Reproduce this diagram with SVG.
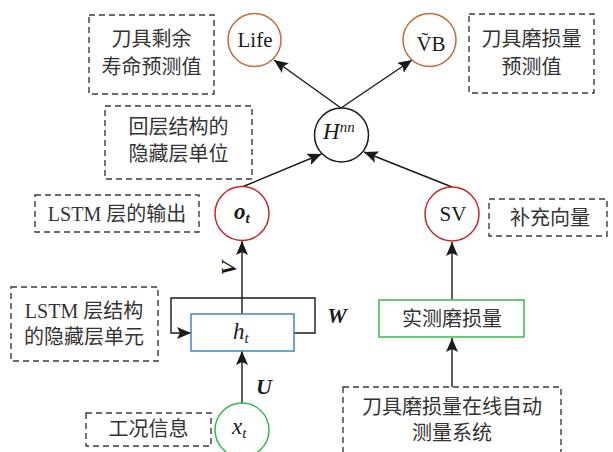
<svg xmlns="http://www.w3.org/2000/svg" width="613" height="452" viewBox="0 0 613 452">
<defs>
<marker id="arr" markerUnits="userSpaceOnUse" markerWidth="14" markerHeight="12" viewBox="0 0 14 12" refX="14" refY="6" orient="auto">
<path d="M0,0 L14,6 L0,12 L3,6 z" fill="#1a1a1a"/>
</marker>
<style>
.dash{fill:none;stroke:#3a3a3a;stroke-width:1.4;stroke-dasharray:6,4}
.cn{font-family:"Liberation Serif","Noto Sans CJK SC",serif;font-size:20px;fill:#333;text-anchor:middle}
.lat{font-family:"Liberation Serif",serif;font-size:21px;fill:#1a1a1a;text-anchor:middle}
.it{font-family:"Liberation Serif",serif;font-style:italic;fill:#1a1a1a}
.bi{font-family:"Liberation Serif",serif;font-style:italic;font-weight:bold;fill:#1a1a1a}
.orange{fill:#fff;stroke:#c56a3a;stroke-width:1.5}
.red{fill:#fff;stroke:#c0282e;stroke-width:1.5}
.green{fill:#fff;stroke:#3db54a;stroke-width:1.5}
.blue{fill:#fff;stroke:#3c86c6;stroke-width:1.5}
.ln{fill:none;stroke:#1a1a1a;stroke-width:1.4}
</style>
</defs>
<rect width="613" height="452" fill="#fff"/>

<g id="connectors">
<line class="ln" x1="242" y1="403" x2="242" y2="351" marker-end="url(#arr)"/>
<line class="ln" x1="242" y1="314" x2="242" y2="241" marker-end="url(#arr)"/>
<path class="ln" d="M294,333 H315 V298 H171 V333 H191" marker-end="url(#arr)"/>
<line class="ln" x1="242" y1="187" x2="321.5" y2="154" marker-end="url(#arr)"/>
<line class="ln" x1="452" y1="187" x2="364" y2="152" marker-end="url(#arr)"/>
<line class="ln" x1="341" y1="108" x2="274" y2="60" marker-end="url(#arr)"/>
<line class="ln" x1="341" y1="108" x2="412" y2="60" marker-end="url(#arr)"/>
<line class="ln" x1="452" y1="300" x2="452" y2="242" marker-end="url(#arr)"/>
<line class="ln" x1="452" y1="387" x2="452" y2="338" marker-end="url(#arr)"/>
<text class="bi" font-size="22" x="236" y="268" text-anchor="middle" transform="rotate(-90 236 268)">V</text>
<text class="bi" font-size="22" x="264" y="394" text-anchor="middle">U</text>
<text class="bi" font-size="22" x="337" y="323" text-anchor="middle">W</text>
</g>

<g id="note-life">
<rect class="dash" x="89" y="15" width="125" height="79"/>
<text class="cn" x="151.5" y="46">刀具剩余</text>
<text class="cn" x="151.5" y="74">寿命预测值</text>
</g>
<g id="node-life">
<circle class="orange" cx="254.5" cy="40" r="26.5"/>
<text class="lat" x="255" y="47">Life</text>
</g>
<g id="node-vb">
<circle class="orange" cx="429.5" cy="40" r="26.5"/>
<text class="lat" x="431" y="51">V&#x303;B</text>
</g>
<g id="note-vb">
<rect class="dash" x="469" y="14" width="125" height="79"/>
<text class="cn" x="531.5" y="46">刀具磨损量</text>
<text class="cn" x="531.5" y="74">预测值</text>
</g>
<g id="note-hidden">
<rect class="dash" x="105" y="106" width="147" height="73"/>
<text class="cn" x="178.5" y="134">回层结构的</text>
<text class="cn" x="178.5" y="161">隐藏层单位</text>
</g>
<g id="node-h">
<circle fill="#fff" stroke="#1a1a1a" stroke-width="1.5" cx="341.5" cy="135" r="27"/>
<text class="it" font-size="23" x="323" y="139">H<tspan font-size="15" dy="-7">nn</tspan></text>
</g>
<g id="note-out">
<rect class="dash" x="35" y="195" width="164" height="37"/>
<text class="cn" x="117" y="221">LSTM 层的输出</text>
</g>
<g id="node-o">
<circle class="red" cx="242" cy="213.5" r="27"/>
<text class="bi" font-size="23" x="234" y="219">o<tspan font-size="15" dy="4">t</tspan></text>
</g>
<g id="node-sv">
<circle class="red" cx="452" cy="214" r="27"/>
<text class="lat" x="453" y="221">SV</text>
</g>
<g id="note-sv">
<rect class="dash" x="489" y="199" width="118" height="37"/>
<text class="cn" x="550" y="225">补充向量</text>
</g>
<g id="note-unit">
<rect class="dash" x="11" y="287" width="147" height="74"/>
<text class="cn" x="84" y="318">LSTM 层结构</text>
<text class="cn" x="84" y="344">的隐藏层单元</text>
</g>
<g id="node-ht">
<rect class="blue" x="191" y="314" width="103" height="37"/>
<text class="it" font-size="23" x="233" y="339">h<tspan font-size="15" dy="4">t</tspan></text>
</g>
<g id="node-measured">
<rect class="green" x="379" y="300" width="145" height="37"/>
<text class="cn" x="452" y="326">实测磨损量</text>
</g>
<g id="note-cond">
<rect class="dash" x="86" y="413" width="125" height="33"/>
<text class="cn" x="148.5" y="436">工况信息</text>
</g>
<g id="node-xt">
<circle class="green" cx="242" cy="430" r="27"/>
<text class="it" font-size="23" x="232" y="434">x<tspan font-size="15" dy="4">t</tspan></text>
</g>
<g id="node-system">
<rect class="dash" x="343" y="387" width="218" height="70"/>
<text class="cn" x="452" y="414">刀具磨损量在线自动</text>
<text class="cn" x="452" y="440">测量系统</text>
</g>
</svg>
